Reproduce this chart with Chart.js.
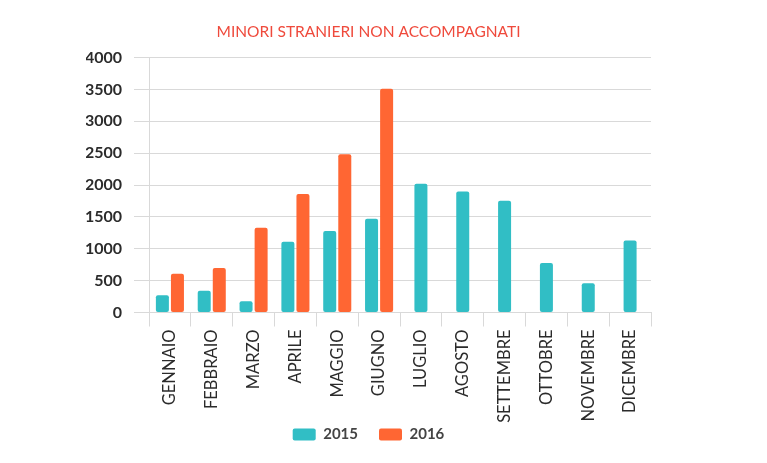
<!DOCTYPE html>
<html>
<head>
<meta charset="utf-8">
<script src="https://cdn.jsdelivr.net/npm/chart.js@4"></script>
<style>
  html, body { margin: 0; padding: 0; background: #fff; }
  #wrap { width: 767px; height: 463px; }
</style>
</head>
<body>
<div id="wrap"><canvas id="chart"></canvas></div>
<script>
// Dati
const months = ['GENNAIO', 'FEBBRAIO', 'MARZO', 'APRILE', 'MAGGIO', 'GIUGNO',
  'LUGLIO', 'AGOSTO', 'SETTEMBRE', 'OTTOBRE', 'NOVEMBRE', 'DICEMBRE'];
const values2015 = [270, 340, 175, 1110, 1280, 1470, 2020, 1900, 1755, 775, 460, 1130];
const values2016 = [610, 700, 1330, 1860, 2485, 3510, null, null, null, null, null, null];
const seriesNames = ['2015', '2016'];

const teal = '#31bec5';
const orange = '#ff6633';
const gridColor = '#d9d9d9';

const ctx = document.getElementById('chart').getContext('2d');
new Chart(ctx, {
  type: 'bar',
  data: {
    labels: months,
    datasets: [
      { label: seriesNames[0], data: values2015, backgroundColor: teal, borderRadius: 2, borderSkipped: false },
      { label: seriesNames[1], data: values2016, backgroundColor: orange, borderRadius: 2, borderSkipped: false }
    ]
  },
  options: {
    responsive: true,
    maintainAspectRatio: false,
    animation: false,
    skipNull: true,
    categoryPercentage: 0.72,
    barPercentage: 0.87,
    maxBarThickness: 13,
    layout: { padding: { left: 86, right: 116, top: 0, bottom: 11 } },
    plugins: {
      title: {
        display: true,
        text: 'MINORI STRANIERI NON ACCOMPAGNATI',
        color: '#ef4a3c',
        font: { family: 'Lato', size: 15.5, weight: 'normal' },
        padding: { top: 23, bottom: 16 }
      },
      legend: {
        position: 'bottom',
        labels: {
          color: '#444',
          font: { family: 'Lato', size: 15, weight: 'bold' },
          boxWidth: 23,
          boxHeight: 12,
          useBorderRadius: true,
          borderRadius: 2,
          padding: 21
        }
      },
      tooltip: { enabled: false }
    },
    scales: {
      x: {
        grid: { drawOnChartArea: false, color: gridColor, tickLength: 14 },
        border: { color: gridColor },
        ticks: {
          color: '#2b2b2b',
          font: { family: 'Lato', size: 16.5 },
          maxRotation: 90,
          minRotation: 90,
          padding: 3
        },
        // asse più basso: le etichette scendono verso la legenda senza essere tagliate
        afterFit: scale => {
          scale.height = 93.5;
          scale._computeLabelArea = () => undefined;
        }
      },
      y: {
        min: 0,
        max: 4000,
        grid: { color: gridColor, tickLength: 15 },
        border: { color: gridColor },
        ticks: {
          stepSize: 500,
          color: '#2b2b2b',
          font: { family: 'Lato', size: 16, weight: 'bold' },
          padding: 12,
          callback: v => String(v)
        },
        afterFit: scale => { scale.width = 63; }
      }
    }
  }
});
</script>
</body>
</html>
